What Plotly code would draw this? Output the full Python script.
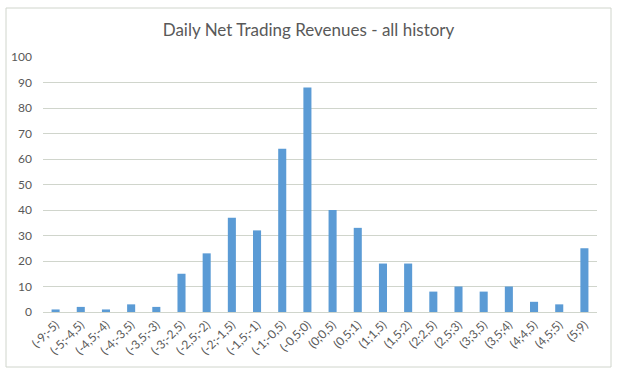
import plotly.graph_objects as go

categories = ["(-9;-5)", "(-5;-4,5)", "(-4,5;-4)", "(-4;-3,5)", "(-3,5;-3)", "(-3;-2,5)",
              "(-2,5;-2)", "(-2;-1,5)", "(-1,5;-1)", "(-1;-0,5)", "(-0,5;0)", "(0;0,5)",
              "(0,5;1)", "(1;1,5)", "(1,5;2)", "(2;2,5)", "(2,5;3)", "(3;3,5)", "(3,5;4)",
              "(4;4,5)", "(4,5;5)", "(5;9)"]
values = [1, 2, 1, 3, 2, 15, 23, 37, 32, 64, 88, 40, 33, 19, 19, 8, 10, 8, 10, 4, 3, 25]
y_ticks = list(range(0, 101, 10))

fig = go.Figure(go.Bar(x=categories, y=values, marker=dict(color="#5B9BD5", line=dict(width=0))))

fig.update_layout(
    width=617, height=376,
    margin=dict(l=43, r=20, t=57, b=64, autoexpand=False),
    paper_bgcolor="white", plot_bgcolor="white",
    bargap=0.68,
    showlegend=False,
    title=dict(text="Daily Net Trading Revenues - all history", x=0.5, xanchor="center",
               y=1 - 30 / 376, yref="container", yanchor="middle",
               font=dict(family="Lato, Open Sans, sans-serif", size=17, color="#595959")),
    font=dict(family="Lato, Open Sans, sans-serif", color="#595959", size=12),
    xaxis=dict(tickangle=-45, showgrid=False, showline=True, linecolor="#D0D5CC",
               ticks="", automargin=False, tickfont=dict(size=12, color="#595959")),
    yaxis=dict(range=[0, 100], tickvals=y_ticks, showgrid=True, gridcolor="#D0D5CC",
               zeroline=False, ticks="", automargin=False,
               tickfont=dict(size=12, color="#595959"), ticklabelstandoff=10),
    shapes=[dict(type="rect", xref="paper", yref="paper",
                 x0=-37 / 554, x1=(611 - 43) / 554,
                 y0=-(367 - 312) / 255, y1=(312 - 8) / 255,
                 line=dict(color="#D0D5CC", width=1))],
)
fig.write_html("out.html", config={"displayModeBar": False},
               post_script="document.body.style.margin='0';")
